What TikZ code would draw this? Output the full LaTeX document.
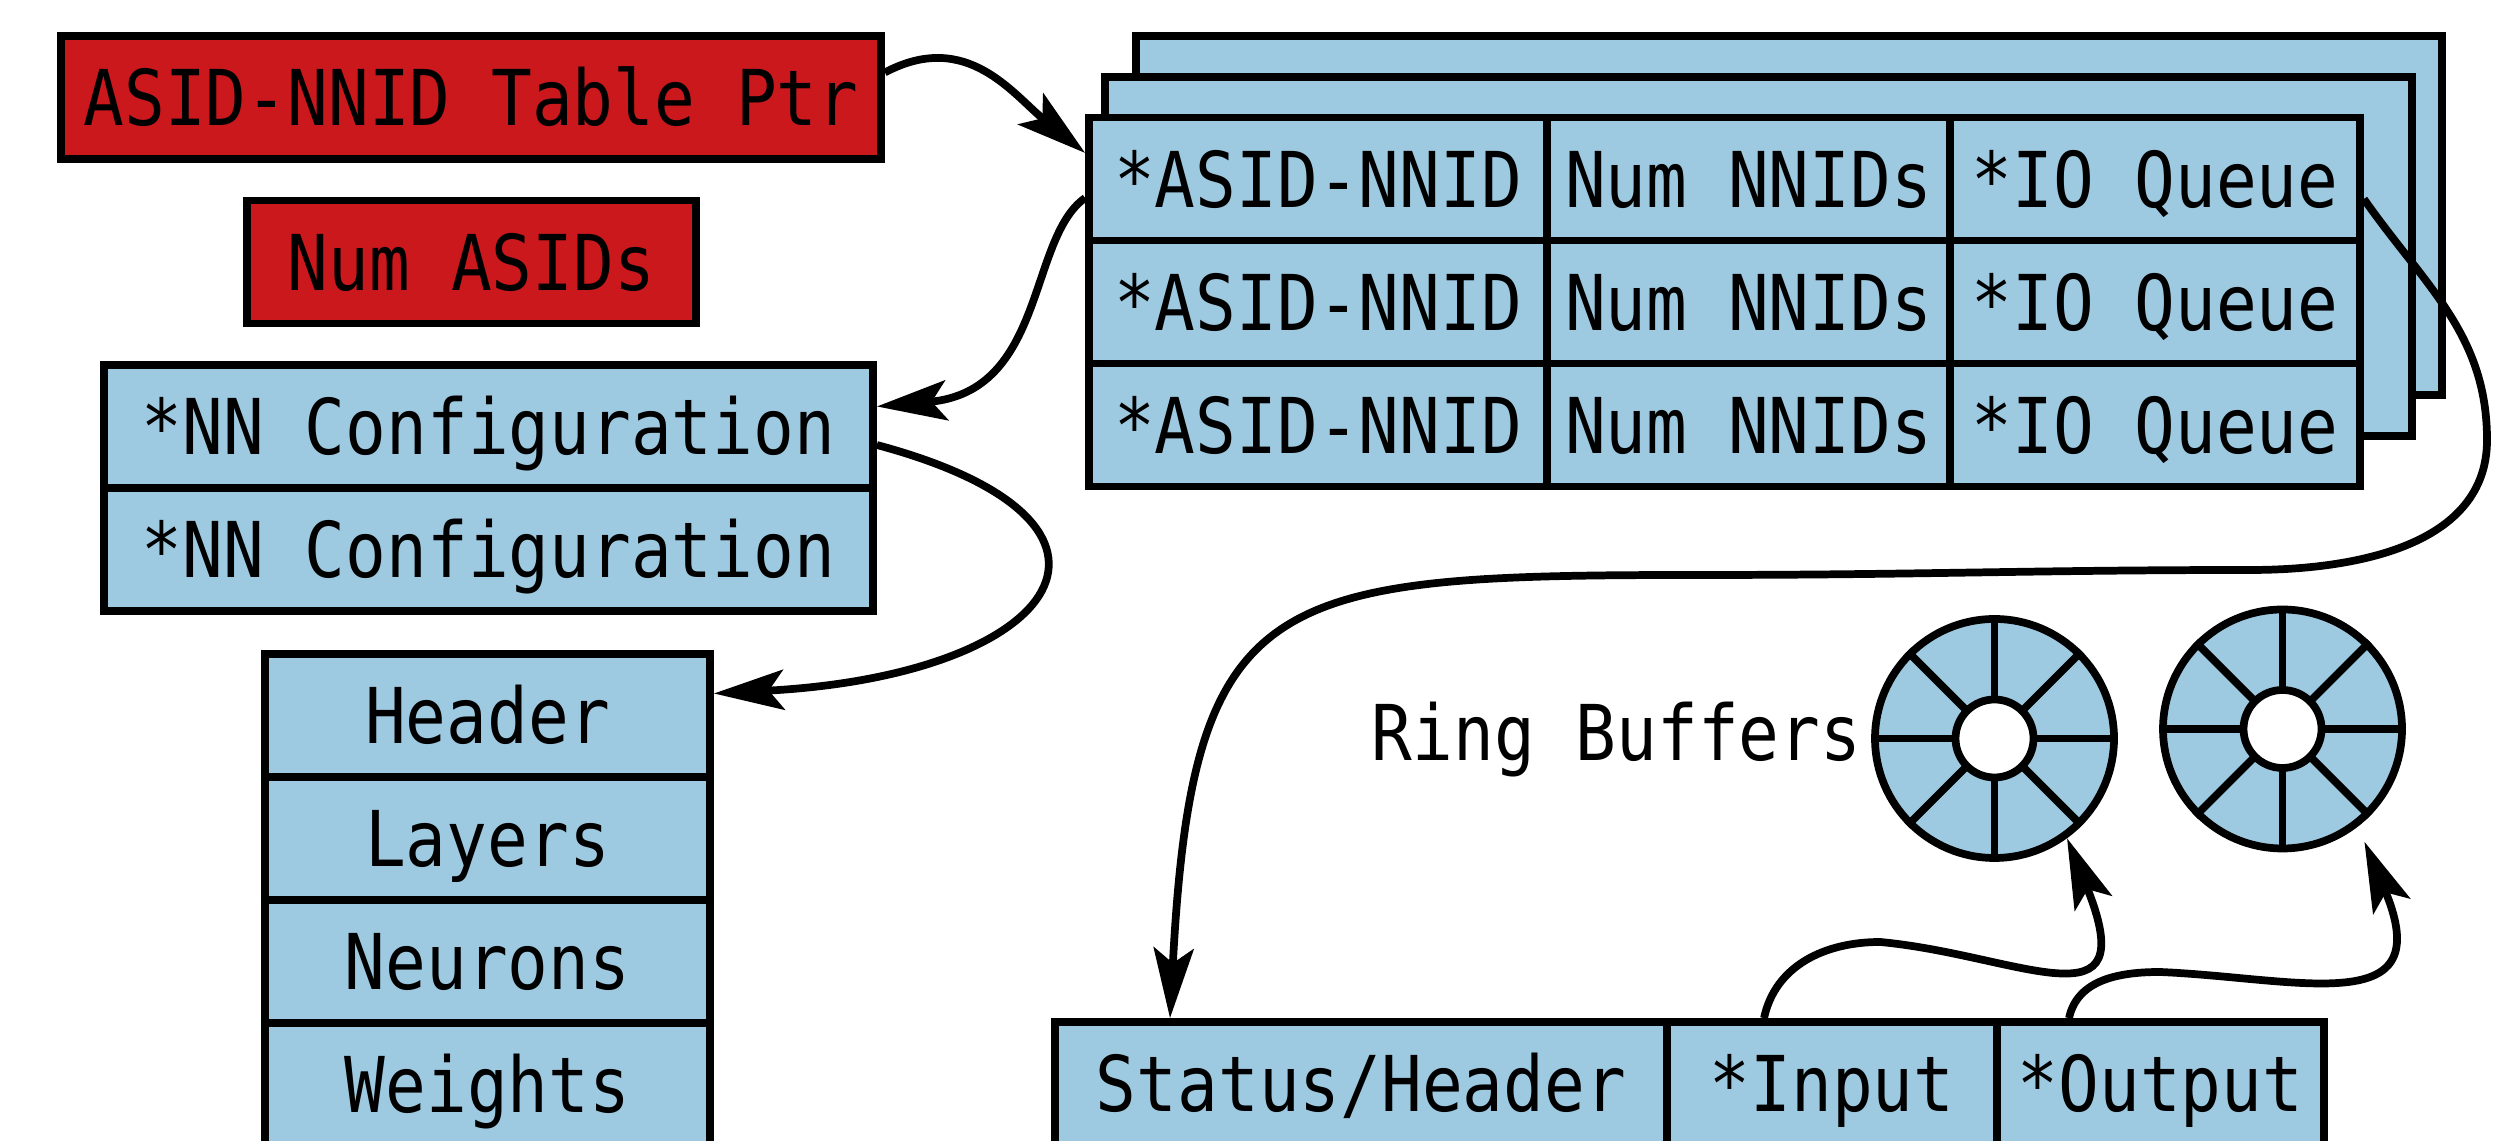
\documentclass[tikz,border=0pt]{standalone}
\usepackage{fontspec}
\setmonofont[FakeStretch=0.88]{DejaVu Sans Mono}
\usetikzlibrary{arrows.meta}
\definecolor{bufblue}{HTML}{9ECAE1}
\definecolor{ptrred}{HTML}{CB181D}

\begin{document}
\begin{tikzpicture}[line width=2.2pt,
  font=\ttfamily\fontsize{21.9}{26}\selectfont,
  cell/.style={draw, fill=bufblue, minimum height=1.23cm, inner sep=0pt, text height=20.8pt, text depth=4.84pt},
  ptr/.style={cell, fill=ptrred},
  ring/.style={draw, fill=bufblue, circle, minimum size=2.39cm, inner sep=0pt},
  link/.style={-{Stealth[length=0.7cm, width=0.4cm, inset=0.15cm]}}]
\useasboundingbox (0, 0) rectangle (25.12, 11.41);
\clip (0, 0) rectangle (25.12, 11.41);

\node[ptr, minimum width=8.2cm] (tptr) at (4.71, 10.435) {ASID-NNID Table Ptr};
\node[ptr, minimum width=4.49cm] (nasid) at (4.715, 8.79) {Num ASIDs};

\node[cell, minimum width=7.69cm] (cfg1) at (4.885, 7.145) {*NN Configuration};
\node[cell, minimum width=7.69cm] (cfg2) at (4.885, 5.915) {*NN Configuration};

\node[cell, minimum width=4.45cm] (hdr) at (4.875, 4.255) {Header};
\node[cell, minimum width=4.45cm] (lay) at (4.875, 3.025) {Layers};
\node[cell, minimum width=4.45cm] (neu) at (4.875, 1.795) {Neurons};
\node[cell, minimum width=4.45cm] (wgt) at (4.875, 0.565) {Weights};

\draw[fill=bufblue] (11.36, 11.05) rectangle (24.42, 7.46);
\draw[fill=bufblue] (11.05, 10.64) rectangle (24.12, 7.05);

\node[cell, minimum width=4.58cm] (a1) at (13.18, 9.62) {*ASID-NNID};
\node[cell, minimum width=4.03cm] (n1) at (17.485, 9.62) {Num NNIDs};
\node[cell, minimum width=4.10cm] (q1) at (21.55, 9.62) {*IO Queue};
\node[cell, minimum width=4.58cm] (a2) at (13.18, 8.39) {*ASID-NNID};
\node[cell, minimum width=4.03cm] (n2) at (17.485, 8.39) {Num NNIDs};
\node[cell, minimum width=4.10cm] (q2) at (21.55, 8.39) {*IO Queue};
\node[cell, minimum width=4.58cm] (a3) at (13.18, 7.16) {*ASID-NNID};
\node[cell, minimum width=4.03cm] (n3) at (17.485, 7.16) {Num NNIDs};
\node[cell, minimum width=4.10cm] (q3) at (21.55, 7.16) {*IO Queue};

\node[cell, minimum width=6.12cm] (stat) at (13.61, 0.575) {Status/Header};
\node[cell, minimum width=3.30cm] (inp) at (18.32, 0.575) {*Input};
\node[cell, minimum width=3.27cm] (outp) at (21.605, 0.575) {*Output};

\node[ring] (rb1) at (19.945, 4.025) {};
\node[ring] (rb2) at (22.825, 4.12) {};
\foreach \a in {0,45,...,315} {
  \draw (rb1.center) -- (rb1.\a);
  \draw (rb2.center) -- (rb2.\a);
}
\draw[fill=white] (rb1.center) circle (0.39);
\draw[fill=white] (rb2.center) circle (0.39);
\node[anchor=east, inner sep=0pt] (rblbl) at ([xshift=-0.06cm, yshift=-0.01cm]rb1.west) {Ring Buffers};

\draw[link] ([yshift=0.25cm]tptr.east) to[out=28, in=141, looseness=1.1] ([yshift=0.26cm]a1.west);
\draw[link] ([yshift=-0.19cm]a1.west) .. controls +(215:0.7) and +(5:1.7) .. ([yshift=0.2cm]cfg1.east);
\draw[link] ([yshift=-0.185cm]cfg1.east) .. controls +(-15:3.0) and +(3:3.5) .. ([yshift=0.22cm]hdr.east);
\draw[link] ([yshift=-0.2cm]q1.east) to[out=-55, in=90] (24.87, 7.01) to[out=-90, in=0] (22.5, 5.71)
  to[out=180, in=0] (17.0, 5.66) to[out=180, in=87, looseness=1.6] ([xshift=-1.91cm]stat.north);
\draw[link] ([xshift=-0.68cm]inp.north) to[out=78, in=180] (18.8, 1.99)
  .. controls (20.2, 1.86) and (21.45, 1.1) .. (rb1.-54);
\draw[link] ([xshift=-0.915cm]outp.north) to[out=78, in=180] (21.6, 1.69)
  .. controls (23.0, 1.63) and (24.4, 1.2) .. ([shift={(-54:0.16)}]rb2.-54);

\end{tikzpicture}
\end{document}
